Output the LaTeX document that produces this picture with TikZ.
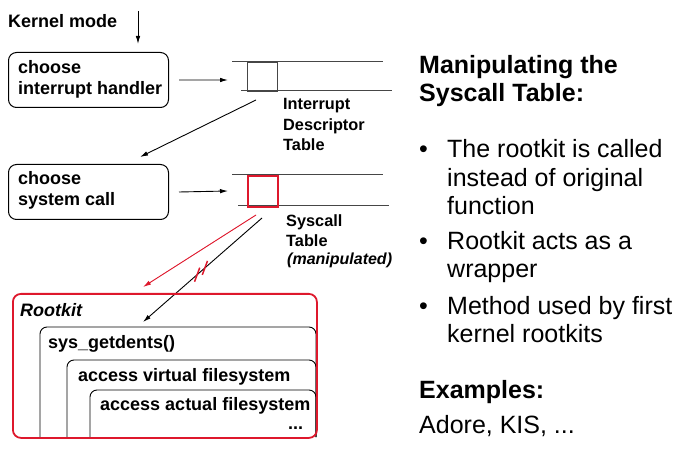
\documentclass[tikz,border=0pt]{standalone}
\usepackage{fontspec}
\setmainfont{Liberation Sans}
\usetikzlibrary{arrows.meta,calc}
\definecolor{rk}{RGB}{222,24,44}
\definecolor{tblgray}{RGB}{70,70,70}
\begin{document}
\begin{tikzpicture}[x=1bp,y=-1bp,
  boxtxt/.style={anchor=base west, inner sep=0, font=\fontsize{18bp}{21bp}\selectfont\bfseries},
  lbltxt/.style={anchor=base west, inner sep=0, font=\fontsize{16.3bp}{20bp}\selectfont\bfseries},
  bigb/.style={anchor=base west, inner sep=0, font=\fontsize{25bp}{28bp}\selectfont\bfseries},
  bigt/.style={anchor=base west, inner sep=0, font=\fontsize{25bp}{28bp}\selectfont},
  arr/.style={-{Latex[length=8bp,width=4.5bp]}, line width=0.9bp},
  rbox/.style={draw, rounded corners=8bp, line width=1bp, inner sep=0, anchor=north west},
  tline/.style={draw=tblgray, line width=1bp},
  nest/.style={draw, rounded corners=7bp, line width=0.9bp},
  cell/.style={draw=tblgray, line width=1bp, inner sep=0, anchor=north west, minimum width=30bp, minimum height=29bp},
  brk/.style={draw=rk, line width=1.5bp},
]
\useasboundingbox (0,0) rectangle (700,462);

% --- Kernel mode
\node[boxtxt] (km) at (8,28) {Kernel mode};
\coordinate (kmtop) at (138,11);
\coordinate (kmend) at (138,44);
\draw[arr] (kmtop) -- (kmend);

% --- box 1
\node[rbox, minimum width=160bp, minimum height=55bp] (ih) at (8,52) {};
\node[boxtxt] (ih1) at (18,74) {choose};
\node[boxtxt] (ih2) at (18,95) {interrupt handler};

% --- IDT
\node[cell] (idt) at (247,62) {};
\coordinate (idtTL) at (232,62);
\coordinate (idtTR) at (383,62);
\coordinate (idtBL) at (241,91);
\coordinate (idtBR) at (392,91);
\draw[tline] (idtTL) -- (idtTR);
\draw[tline] (idtBL) -- (idtBR);
\coordinate (idtin) at (228,80);
\draw[arr] ([xshift=10bp]ih.east) -- (idtin);
\node[lbltxt] (idl1) at (283,110) {Interrupt};
\node[lbltxt] (idl2) at (283,131) {Descriptor};
\node[lbltxt] (idl3) at (283,151) {Table};

% --- box 2
\node[rbox, minimum width=160bp, minimum height=55bp] (sc) at (8,164) {};
\node[boxtxt] (sc1) at (18,185) {choose};
\node[boxtxt] (sc2) at (18,206) {system call};
\coordinate (idtout) at (256,100);
\coordinate (scin) at (140,157);
\draw[arr] (idtout) -- (scin);

% --- Syscall table
\coordinate (stTL) at (232,175);
\coordinate (stTR) at (383,175);
\coordinate (stBL) at (238,206);
\coordinate (stBR) at (389,206);
\draw[tline] (stTL) -- (stTR);
\draw[tline] (stBL) -- (stBR);
\node[cell, draw=rk, line width=1.6bp, minimum height=31bp] (scc) at (247,175) {};
\coordinate (stin) at (228,191);
\draw[arr] ([xshift=10bp]sc.east) -- (stin);
\node[lbltxt] (stl1) at (286,227) {Syscall};
\node[lbltxt] (stl2) at (286,247) {Table};
\node[lbltxt, font=\fontsize{16bp}{20bp}\selectfont\bfseries\itshape] (stl3) at (287,265) {(manipulated)};

% --- arrows to rootkit
\coordinate (rstart) at (256,215);
\coordinate (rend) at (143,287);
\draw[arr, draw=rk, fill=rk] (rstart) -- (rend);
\coordinate (bstart) at (262,218);
\coordinate (bend) at (143,322);
\draw[arr] (bstart) -- (bend);
\coordinate (m1) at ($(bstart)!0.545!(bend)$);
\coordinate (m2) at ($(bstart)!0.48!(bend)$);
\draw[brk] ($(m1)+(-2.6,7)$) -- ($(m1)+(2.6,-7)$);
\draw[brk] ($(m2)+(-2.6,7)$) -- ($(m2)+(2.6,-7)$);

% --- nested boxes
\coordinate (n1a) at (40,437);
\coordinate (n1b) at (40,327);
\coordinate (n1c) at (316,327);
\coordinate (n1d) at (316,437);
\draw[nest] (n1a) -- (n1b) -- (n1c) -- (n1d);
\coordinate (n2a) at (67,437);
\coordinate (n2b) at (67,360);
\coordinate (n2c) at (316,360);
\coordinate (n2d) at (316,437);
\draw[nest] (n2a) -- (n2b) -- (n2c) -- (n2d);
\coordinate (n3a) at (90,437);
\coordinate (n3b) at (90,390);
\coordinate (n3c) at (316,390);
\coordinate (n3d) at (316,437);
\draw[nest] (n3a) -- (n3b) -- (n3c) -- (n3d);
\node[rbox, draw=rk, line width=1.8bp, minimum width=304bp, minimum height=144bp] (rkbox) at (12,293) {};
\node[boxtxt, font=\fontsize{18bp}{21bp}\selectfont\bfseries\itshape] (rkt) at (20,317) {Rootkit};
\node[boxtxt] (sg) at (48,349) {sys\_getdents()};
\node[boxtxt] (avf) at (78,381) {access virtual filesystem};
\node[boxtxt] (aaf) at (100,410) {access actual filesystem};
\node[boxtxt] (dots) at (288,429) {...};

% --- right text
\node[bigb] (h1) at (419,74) {Manipulating the};
\node[bigb] (h2) at (419,102) {Syscall Table:};
\node[bigt] (b1) at (419,158) {•};
\node[bigt] (t11) at (447,158) {The rootkit is called};
\node[bigt] (t12) at (447,187) {instead of original};
\node[bigt] (t13) at (447,215) {function};
\node[bigt] (b2) at (419,250) {•};
\node[bigt] (t21) at (447,250) {Rootkit acts as a};
\node[bigt] (t22) at (447,278) {wrapper};
\node[bigt] (b3) at (419,315) {•};
\node[bigt] (t31) at (447,315) {Method used by first};
\node[bigt] (t32) at (447,343) {kernel rootkits};
\node[bigb] (ex) at (419,398) {Examples:};
\node[bigt] (exl) at (419,433) {Adore, KIS, ...};
\end{tikzpicture}
\end{document}
